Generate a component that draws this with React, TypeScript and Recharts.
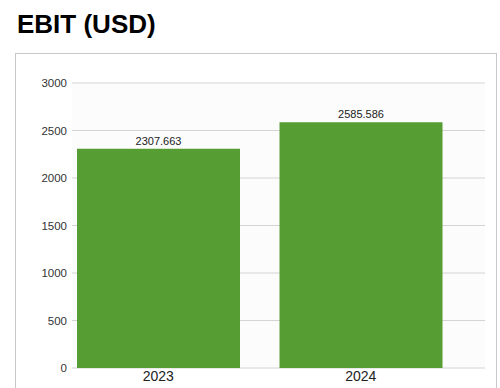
import React from "react";
import { BarChart, Bar, XAxis, YAxis, CartesianGrid, LabelList } from "recharts";

const years = ["2023", "2024"];
const ebit = [2307.663, 2585.586];
const yTicks = [0, 500, 1000, 1500, 2000, 2500, 3000];

const data = years.map((year, i) => ({ year, ebit: ebit[i] }));

const font = "Arial, 'Liberation Sans', sans-serif";

export default function App() {
    return (
        <div style={{ position: "absolute", left: 0, top: 0, width: 500, height: 388, overflow: "hidden", background: "#fff", fontFamily: font }}>
            <div style={{ position: "absolute", left: 17, top: 9, fontSize: 26, lineHeight: "30px", fontWeight: "bold", color: "#000" }}>
                EBIT (USD)
            </div>
            <div style={{ position: "absolute", left: 15, top: 53, width: 480, height: 345, border: "1px solid #c8c8c8" }}>
                <BarChart
                    width={480}
                    height={334}
                    data={data}
                    margin={{ top: 29, right: 11, bottom: 0, left: 0 }}
                    barCategoryGap={20}
                >
                    <CartesianGrid vertical={false} stroke="#d4d4d4" fill="#fcfcfc" />
                    <XAxis
                        dataKey="year"
                        axisLine={false}
                        tickLine={false}
                        tickSize={0}
                        tickMargin={3}
                        height={20}
                        padding={{ left: -15, right: 23 }}
                        tick={{ fontSize: 14, fill: "#222", fontFamily: font }}
                    />
                    <YAxis
                        width={56}
                        domain={[0, 3000]}
                        ticks={yTicks}
                        axisLine={false}
                        tickLine={false}
                        tickSize={0}
                        tickMargin={5}
                        tick={{ fontSize: 11.5, fill: "#333", fontFamily: font }}
                    />
                    <Bar dataKey="ebit" fill="#569e33" isAnimationActive={false}>
                        <LabelList dataKey="ebit" position="top" offset={4} style={{ fontSize: 11, fill: "#222", fontFamily: font }} />
                    </Bar>
                </BarChart>
            </div>
        </div>
    );
}
